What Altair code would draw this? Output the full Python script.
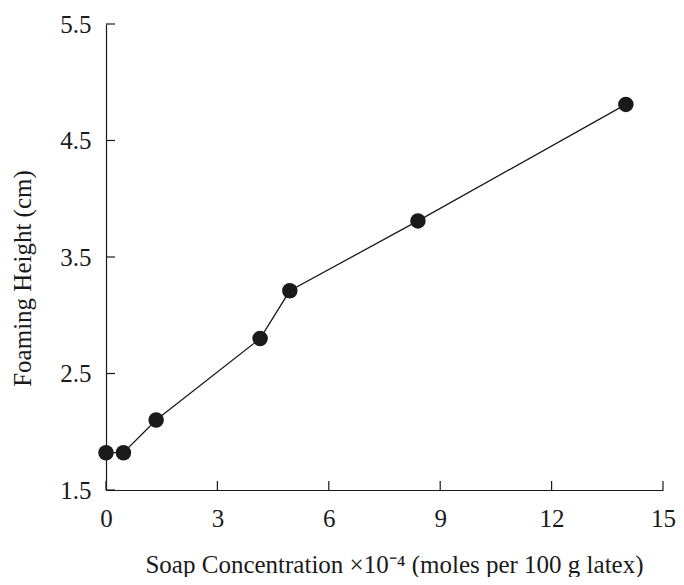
import altair as alt
import pandas as pd

# Data
conc = [0.0, 0.47, 1.35, 4.15, 4.95, 8.4, 14.0]
foam_height = [1.82, 1.82, 2.1, 2.8, 3.21, 3.81, 4.81]
x_ticks = [0, 3, 6, 9, 12, 15]
y_ticks = [1.5, 2.5, 3.5, 4.5, 5.5]

x_title = "Soap Concentration ×10⁻⁴ (moles per 100 g latex)"
y_title = "Foaming Height (cm)"

df = pd.DataFrame({"x": conc, "y": foam_height})
xt = pd.DataFrame({"x": x_ticks})
yt = pd.DataFrame({"y": y_ticks})

W, H = 557, 466
FONT = "Liberation Serif"
INK = "#1a1a1a"
TICK_LEN = 9

xscale = alt.Scale(domain=[0, 15], nice=False, zero=False)
yscale = alt.Scale(domain=[1.5, 5.5], nice=False, zero=False)

xaxis = alt.Axis(
    values=x_ticks, format="d", ticks=False, tickSize=0, grid=False,
    labelFlush=False, labelOverlap=False,
    labelPadding=16, labelFontSize=25, labelFont=FONT, labelColor=INK,
    domainColor=INK, domainWidth=1.2,
    title=x_title, titleFont=FONT, titleFontSize=25, titleFontWeight="normal",
    titleColor=INK, titleX=288, titleY=82, titleBaseline="alphabetic",
    titleAlign="center",
)
yaxis = alt.Axis(
    values=y_ticks, format=".1f", ticks=False, tickSize=0, grid=False,
    labelFlush=False, labelOverlap=False,
    labelPadding=15, labelFontSize=25, labelFont=FONT, labelColor=INK,
    domainColor=INK, domainWidth=1.2,
    title=y_title, titleFont=FONT, titleFontSize=25, titleFontWeight="normal",
    titleColor=INK, titleX=-76, titleY=254, titleBaseline="alphabetic",
    titleAlign="center", titleAngle=270,
)

line = alt.Chart(df).mark_line(color=INK, strokeWidth=1.3, interpolate="linear").encode(
    x=alt.X("x:Q", scale=xscale, axis=xaxis),
    y=alt.Y("y:Q", scale=yscale, axis=yaxis),
)
points = alt.Chart(df).mark_point(filled=True, shape="circle", size=240, color=INK, opacity=1).encode(
    x=alt.X("x:Q", scale=xscale, axis=xaxis),
    y=alt.Y("y:Q", scale=yscale, axis=yaxis),
)
xticks = alt.Chart(xt).mark_rule(color=INK, strokeWidth=1.2).encode(
    x=alt.X("x:Q", scale=xscale, axis=xaxis),
    y=alt.value(H),
    y2=alt.value(H - TICK_LEN),
)
yticks = alt.Chart(yt).mark_rule(color=INK, strokeWidth=1.2).encode(
    y=alt.Y("y:Q", scale=yscale, axis=yaxis),
    x=alt.value(0),
    x2=alt.value(TICK_LEN),
)

chart = alt.layer(line, xticks, yticks, points).properties(
    width=W, height=H,
    autosize=alt.AutoSizeParams(type="none"),
    padding={"left": 98, "top": 16, "right": 13, "bottom": 87},
).configure_view(stroke=None)

chart.save("out.html", embed_options={"renderer": "svg", "actions": False})
